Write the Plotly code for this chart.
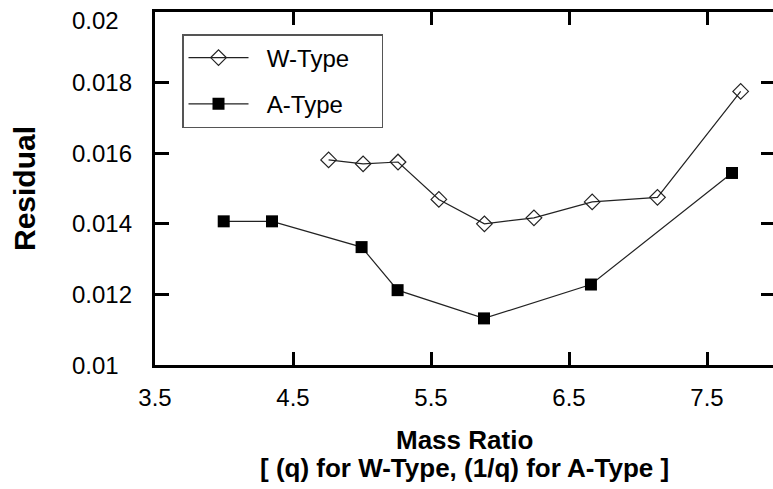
import plotly.graph_objects as go

# ---- data ----
w_x = [4.758, 5.008, 5.261, 5.557, 5.887, 6.246, 6.668, 7.141, 7.744]
w_y = [0.01581, 0.01570, 0.01575, 0.01469, 0.01400, 0.01417, 0.01462, 0.01475, 0.01775]
a_x = [3.998, 4.348, 4.997, 5.258, 5.884, 6.659, 7.681]
a_y = [0.01407, 0.01407, 0.01334, 0.01212, 0.01132, 0.01228, 0.01544]
x_ticks = [3.5, 4.5, 5.5, 6.5, 7.5]
x_tick_labels = ["3.5", "4.5", "5.5", "6.5", "7.5"]
y_ticks = [0.01, 0.012, 0.014, 0.016, 0.018, 0.02]
y_tick_labels = ["0.01", "0.012", "0.014", "0.016", "0.018", "0.02"]
series_names = ["W-Type", "A-Type"]
x_title = "Mass Ratio"
x_subtitle = "[ (q) for W-Type, (1/q) for A-Type ]"
y_title = "Residual"

W, H = 773, 489
L, R, T, B = 155, 0, 12, 124
plot_w = W - L - R
plot_h = H - T - B
FONT = "Liberation Sans, Arial, sans-serif"
NB = "\u00a0"

fig = go.Figure()
fig.add_trace(go.Scatter(
    x=w_x, y=w_y, name=NB * 2 + series_names[0] + NB * 4, mode="lines+markers", legendgroup="w",
    line=dict(color="#222222", width=1.2),
    marker=dict(symbol="diamond-open", size=12, color="#222222", line=dict(width=1.2)),
))
fig.add_trace(go.Scatter(
    x=a_x, y=a_y, name=NB * 2 + series_names[1] + NB * 4, mode="lines+markers", legendgroup="a",
    line=dict(color="#222222", width=1.2),
    marker=dict(symbol="square", size=12, color="black"),
))
# right-side tick marks (frame extends past the right edge of the image)
fig.add_trace(go.Scatter(x=[None], y=[None], yaxis="y2", showlegend=False, hoverinfo="skip"))

fig.update_layout(
    width=W, height=H,
    margin=dict(l=L, r=R, t=T, b=B),
    paper_bgcolor="white", plot_bgcolor="white",
    font=dict(family=FONT, color="black", size=24),
    xaxis=dict(
        range=[3.5, 3.5 + plot_w / 138.0],
        tickvals=x_ticks, ticktext=x_tick_labels,
        ticks="inside", ticklen=13, tickwidth=3, tickcolor="black",
        showline=True, linewidth=3, linecolor="black", mirror="ticks",
        showgrid=False, zeroline=False,
        tickfont=dict(size=24), ticklabelstandoff=9,
    ),
    yaxis=dict(
        range=[0.01, 0.02],
        tickvals=y_ticks, showticklabels=False,
        ticks="inside", ticklen=14, tickwidth=3, tickcolor="black",
        showline=True, linewidth=3, linecolor="black",
        showgrid=False, zeroline=False,
        title=dict(text="<b>" + y_title + "</b>", font=dict(size=30), standoff=108),
    ),
    yaxis2=dict(
        range=[0.01, 0.02], overlaying="y", side="right",
        tickvals=y_ticks[1:-1], showticklabels=False,
        ticks="inside", ticklen=12, tickwidth=3, tickcolor="black",
        showline=False, showgrid=False, zeroline=False,
    ),
    legend=dict(
        x=(182 - L) / plot_w, y=1 - (34 - T) / plot_h,
        xanchor="left", yanchor="top",
        bgcolor="white", bordercolor="#555555", borderwidth=1.5,
        font=dict(size=24), traceorder="grouped", tracegroupgap=12,
        itemwidth=60,
    ),
    showlegend=True,
)

for v, t in zip(y_ticks, y_tick_labels):
    fig.add_annotation(
        x=(70 - L) / plot_w, xref="paper", xanchor="left",
        y=v, yref="y", yanchor="middle", yshift=(-8 if v == max(y_ticks) else 0),
        text=t, showarrow=False, font=dict(size=24),
    )

fig.add_annotation(
    x=0.5, xref="paper", xanchor="center",
    y=-(440 - 365) / plot_h, yref="paper", yanchor="middle",
    text="<b>" + x_title + "</b>", showarrow=False, font=dict(size=26),
)
fig.add_annotation(
    x=0.5, xref="paper", xanchor="center",
    y=-(468 - 365) / plot_h, yref="paper", yanchor="middle",
    text="<b>" + x_subtitle + "</b>", showarrow=False, font=dict(size=26),
)

fig.write_html("out.html")
